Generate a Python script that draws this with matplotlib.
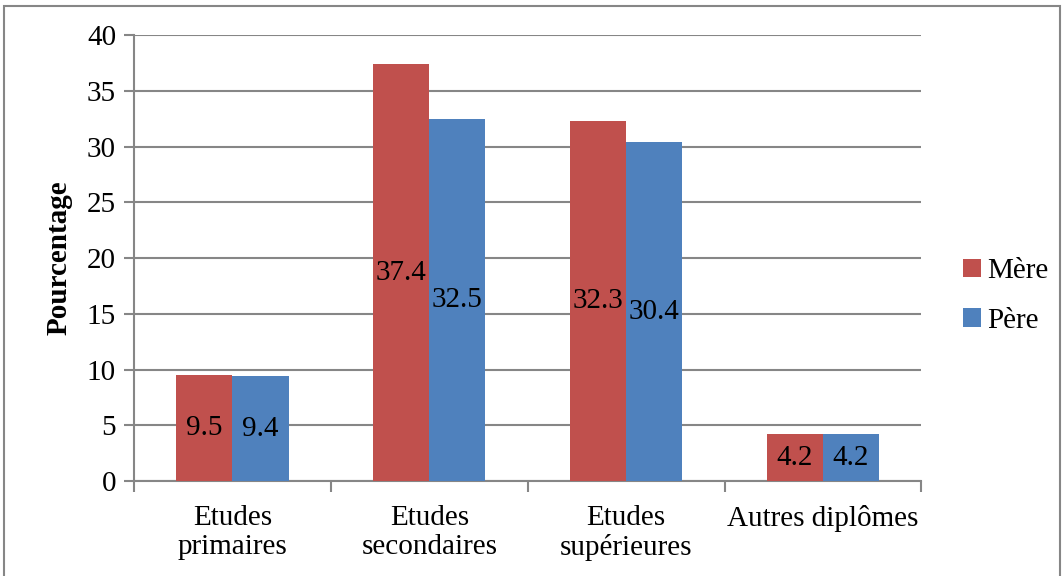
import numpy as np
import matplotlib.pyplot as plt
from matplotlib.patches import Rectangle

# Data
categories = ["Etudes\nprimaires", "Etudes\nsecondaires", "Etudes\nsupérieures", "Autres diplômes"]
mere = [9.5, 37.4, 32.3, 4.2]
pere = [9.4, 32.5, 30.4, 4.2]
series_names = ["Mère", "Père"]

RED = "#C0504D"
BLUE = "#4F81BD"
GRID = "#868686"
FS = 21

plt.rcParams["font.family"] = ["Liberation Serif", "DejaVu Serif"]

fig = plt.figure(figsize=(10.64, 5.76), dpi=100)
ax = fig.add_axes([0.126, 0.165, 0.74, 0.774])

x = np.arange(len(categories))
w = 0.285
b1 = ax.bar(x - w / 2, mere, w, color=RED, label=series_names[0], zorder=3)
b2 = ax.bar(x + w / 2, pere, w, color=BLUE, label=series_names[1], zorder=3)

ax.bar_label(b1, labels=[f"{v:.1f}" for v in mere], label_type="center", fontsize=FS)
ax.bar_label(b2, labels=[f"{v:.1f}" for v in pere], label_type="center", fontsize=FS)

ax.set_xlim(-0.5, len(categories) - 0.5)
ax.set_ylim(0, 40)
ax.set_yticks(range(0, 41, 5))
ax.yaxis.grid(True, color=GRID, linewidth=1.5, zorder=0)
ax.tick_params(axis="y", labelsize=FS, length=7, width=1.5, color=GRID, pad=6)

# category labels between boundary ticks
ax.set_xticks(np.arange(-0.5, len(categories)), labels=[""] * (len(categories) + 1))
ax.set_xticks(x, labels=categories, minor=True)
ax.tick_params(axis="x", which="major", length=8, width=1.5, color=GRID)
ax.tick_params(axis="x", which="minor", length=0, labelsize=FS, pad=17)
for lbl in ax.get_xticklabels(minor=True):
    lbl.set_linespacing(1.15)

for side in ["top", "right"]:
    ax.spines[side].set_visible(False)
for side in ["left", "bottom"]:
    ax.spines[side].set_color(GRID)
    ax.spines[side].set_linewidth(1.5)

ax.set_ylabel("Pourcentage", fontsize=21, fontweight="bold", labelpad=10)

ax.legend(loc="center left", bbox_to_anchor=(1.02, 0.415), frameon=False,
          fontsize=FS, handlelength=0.6, handleheight=0.6, handletextpad=0.2,
          labelspacing=0.8)

# outer chart border
fig.patches.append(Rectangle((0.004, -0.01), 0.992, 1.0, transform=fig.transFigure,
                             fill=False, edgecolor=GRID, linewidth=1.5))

fig.savefig("out.png", dpi=100)
